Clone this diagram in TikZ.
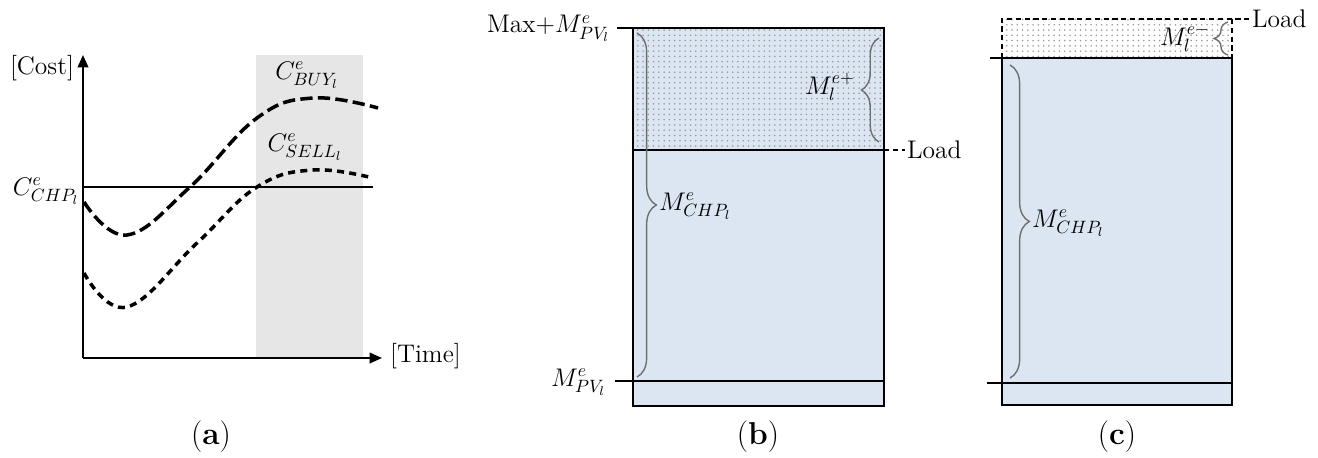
\documentclass[tikz,border=0pt]{standalone}
\usepackage{fix-cm}
\usepackage{fontspec}
\usetikzlibrary{decorations.pathreplacing, arrows.meta, patterns, positioning}
\definecolor{boxblue}{HTML}{DCE6F2}
\definecolor{shadegray}{HTML}{E6E6E6}
\definecolor{bracegray}{HTML}{6F6F6F}
\newcommand{\lblfont}{\fontsize{14.5}{17}\selectfont}
\newcommand{\subcapfont}{\fontsize{18}{21}\selectfont}

\begin{document}
\begin{tikzpicture}[x=0.02cm, y=0.02cm,
  lbl/.style={font=\lblfont, inner sep=1pt},
  subcap/.style={font=\subcapfont, inner sep=1pt},
  boxline/.style={black, line width=1.1pt},
  loadline/.style={black, line width=1.1pt, dash pattern=on 3pt off 2pt},
  axisline/.style={black, line width=1.1pt, -{Triangle[length=7pt,width=6pt]}},
  buyline/.style={line width=2pt, dash pattern=on 7pt off 3pt},
  sellline/.style={line width=2pt, dash pattern=on 4pt off 3pt},
  bracket/.style={bracegray, line width=0.8pt, decorate, decoration={brace, amplitude=#1}},
  dotfill/.style={pattern=dots, pattern color=black!40}]
\useasboundingbox (0,0) rectangle (1318,457);

% (a) cost curves
\fill [shadegray] (256,99) rectangle (363,402);
\coordinate (o) at (83,99);
\coordinate (ytop) at (83,402);
\coordinate (xend) at (382,99);
\draw [axisline] (o) -- (ytop);
\draw [axisline] (o) -- (xend);
\node [lbl] (cost) at (42,389) {[Cost]};
\node [lbl, anchor=west] (time) at (388,101) {[Time]};
\node [lbl] (cchp) at (46,266) {$C^e_{CHP_l}$};
\coordinate (chpl) at (83,270);
\coordinate (chpr) at (373,270);
\draw [line width=1.4pt] (chpl) -- (chpr);
\draw [buyline] plot [smooth, tension=0.7] coordinates
  {(84,255) (127,222) (190,270) (257,339) (313,359) (378,349)};
\draw [sellline] plot [smooth, tension=0.7] coordinates
  {(84,184) (127,150) (197,214) (257,270) (313,287) (373,279)};
\node [lbl] (cbuy) at (307,382) {$C^e_{BUY_l}$};
\node [lbl] (csell) at (305,310) {$C^e_{SELL_l}$};
\node [subcap] (capa) at (211,20) {(\textbf{a})};

% (b) surplus case
\fill [boxblue] (633,51) rectangle (884,429);
\fill [dotfill] (633,307) rectangle (884,429);
\draw [boxline] (633,51) rectangle (884,429);
\draw [boxline] (633,76) -- (884,76);
\draw [boxline] (633,307) -- (884,307);
\coordinate (btop) at (633,429);
\coordinate (bpv) at (633,76);
\coordinate (bload) at (884,307);
\node [lbl, anchor=base east] (bmax) at (612,424) {Max+$M^e_{PV_l}$};
\draw [boxline] (617,429) -- (btop);
\node [lbl, anchor=base east] (bpvl) at (608,71) {$M^e_{PV_l}$};
\draw [boxline] (615,76) -- (bpv);
\draw [bracket=11pt] (637,424) -- (637,80);
\node [lbl, anchor=west] (bchp) at (657,251) {$M^e_{CHP_l}$};
\draw [bracket=10pt] (879,315) -- (879,419);
\node [lbl, anchor=east] (bplus) at (857,370) {$M^{e+}_l$};
\coordinate (bloadend) at (905,307);
\draw [loadline] (bload) -- (bloadend);
\node [lbl, anchor=west] (bloadtxt) at (bloadend) {Load};
\node [subcap] (capb) at (758,20) {(\textbf{b})};

% (c) deficit case
\fill [boxblue] (1002,52) rectangle (1232,399);
\fill [dotfill] (1002,399) rectangle (1232,438);
\draw [boxline] (1002,52) rectangle (1232,399);
\draw [boxline] (1002,74) -- (1232,74);
\draw [boxline] (990,399) -- (1002,399);
\draw [boxline] (987,74) -- (1002,74);
\coordinate (cload) at (1250,438);
\draw [loadline] (1002,399) -- (1002,438) -- (cload);
\draw [loadline] (1232,438) -- (1232,399);
\node [lbl, anchor=west] (cloadtxt) at (cload) {Load};
\draw [bracket=11pt] (1010,392) -- (1010,79);
\node [lbl, anchor=west] (cchpm) at (1030,234) {$M^e_{CHP_l}$};
\draw [bracket=8pt] (1228,402) -- (1228,435);
\node [lbl, anchor=east] (cminus) at (1212,419) {$M^{e-}_l$};
\node [subcap] (capc) at (1117,20) {(\textbf{c})};
\end{tikzpicture}
\end{document}
